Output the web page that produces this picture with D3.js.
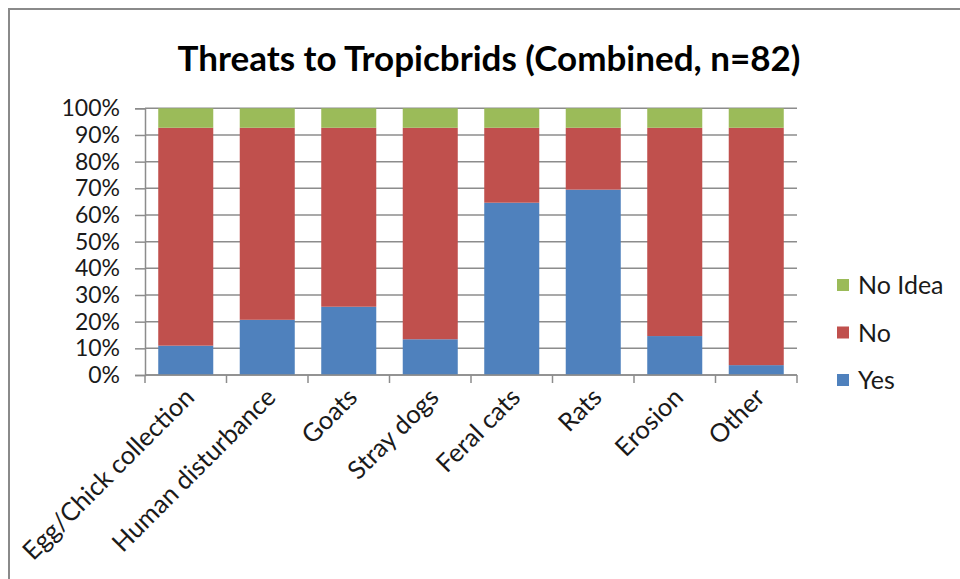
<!DOCTYPE html>
<html>
<head>
<meta charset="utf-8">
<script src="https://cdn.jsdelivr.net/npm/d3@7"></script>
<style>
  html, body { margin: 0; padding: 0; background: #fff; }
  svg { display: block; }
</style>
</head>
<body>
<svg id="chart" width="960" height="579"></svg>
<script>
// Survey responses, percent of respondents (n = 82)
const categories = ["Egg/Chick collection", "Human disturbance", "Goats", "Stray dogs", "Feral cats", "Rats", "Erosion", "Other"];
const yesValues = [11.0, 20.7, 25.6, 13.4, 64.6, 69.5, 14.6, 3.7];
const noIdeaValues = [7.3, 7.3, 7.3, 7.3, 7.3, 7.3, 7.3, 7.3];
const noValues = yesValues.map((y, i) => +(100 - y - noIdeaValues[i]).toFixed(1));
const seriesNames = ["Yes", "No", "No Idea"];
const seriesColors = ["#4F81BD", "#C0504D", "#9BBB59"];
const yTickValues = [0, 10, 20, 30, 40, 50, 60, 70, 80, 90, 100];

const rows = categories.map((c, i) => ({ cat: c, "Yes": yesValues[i], "No": noValues[i], "No Idea": noIdeaValues[i] }));

const svg = d3.select("#chart");
const fontFamily = "Lato, 'Open Sans', sans-serif";
const gridColor = "#8c8c8c";

// outer chart frame
svg.append("rect")
  .attr("x", 9).attr("y", 9)
  .attr("width", 1000).attr("height", 1000)
  .attr("fill", "none")
  .attr("stroke", "#8a8a8a")
  .attr("stroke-width", 2);

const plot = { left: 145, right: 797, top: 108.3, bottom: 375 };

const x = d3.scaleBand()
  .domain(categories)
  .range([plot.left, plot.right])
  .paddingInner(0.325)
  .paddingOuter(0.1625);

const y = d3.scaleLinear().domain([0, 100]).range([plot.bottom, plot.top]);

// horizontal gridlines
svg.append("g")
  .selectAll("line")
  .data(yTickValues)
  .join("line")
  .attr("x1", plot.left).attr("x2", plot.right)
  .attr("y1", d => y(d)).attr("y2", d => y(d))
  .attr("stroke", gridColor)
  .attr("stroke-width", 1.5);

// stacked bars
const stack = d3.stack().keys(seriesNames);
const stacked = stack(rows);
const color = d3.scaleOrdinal().domain(seriesNames).range(seriesColors);

svg.append("g")
  .selectAll("g")
  .data(stacked)
  .join("g")
  .attr("fill", d => color(d.key))
  .selectAll("rect")
  .data(d => d)
  .join("rect")
  .attr("x", d => x(d.data.cat))
  .attr("width", x.bandwidth())
  .attr("y", d => y(d[1]))
  .attr("height", d => y(d[0]) - y(d[1]));

// y axis
const yAxis = d3.axisLeft(y)
  .tickValues(yTickValues)
  .tickFormat(d => d + "%")
  .tickSize(10)
  .tickPadding(15);

const gy = svg.append("g")
  .attr("transform", `translate(${plot.left},0)`)
  .call(yAxis);
gy.select(".domain").attr("stroke", gridColor).attr("stroke-width", 1.5);
gy.selectAll(".tick line").attr("stroke", gridColor).attr("stroke-width", 1.5);
gy.selectAll(".tick text")
  .attr("font-family", fontFamily)
  .attr("font-size", 23)
  .attr("fill", "#1a1a1a");

// x axis: baseline with tick marks at the category boundaries
const boundaries = categories.map(c => x(c) - x.step() * x.paddingInner() / 2 ).concat([plot.right]);
boundaries[0] = plot.left;
const gx = svg.append("g");
gx.append("line")
  .attr("x1", plot.left).attr("x2", plot.right)
  .attr("y1", plot.bottom).attr("y2", plot.bottom)
  .attr("stroke", gridColor).attr("stroke-width", 1.5);
gx.selectAll("line.tick")
  .data(boundaries)
  .join("line")
  .attr("class", "tick")
  .attr("x1", d => d).attr("x2", d => d)
  .attr("y1", plot.bottom).attr("y2", plot.bottom + 8)
  .attr("stroke", gridColor).attr("stroke-width", 1.5);

gx.selectAll("text")
  .data(categories)
  .join("text")
  .attr("transform", d => `translate(${x(d) + x.bandwidth() / 2 + 10},${plot.bottom + 24}) rotate(-45)`)
  .attr("text-anchor", "end")
  .attr("font-family", fontFamily)
  .attr("font-size", 25.5)
  .attr("fill", "#1a1a1a")
  .text(d => d);

// title
svg.append("text")
  .attr("x", 489)
  .attr("y", 71)
  .attr("text-anchor", "middle")
  .attr("font-family", fontFamily)
  .attr("font-weight", "bold")
  .attr("font-size", 35)
  .attr("fill", "#000")
  .text("Threats to Tropicbrids (Combined, n=82)");

// legend (top entry is the top of the stack)
const legendItems = seriesNames.slice().reverse();
const legend = svg.append("g");
legend.selectAll("g")
  .data(legendItems)
  .join("g")
  .attr("transform", (d, i) => `translate(837,${285 + i * 47.5})`)
  .each(function (d) {
    const g = d3.select(this);
    g.append("rect")
      .attr("x", 0).attr("y", -6)
      .attr("width", 12).attr("height", 12)
      .attr("fill", color(d));
    g.append("text")
      .attr("x", 21).attr("y", 0)
      .attr("dy", "0.36em")
      .attr("font-family", fontFamily)
      .attr("font-size", 25)
      .attr("fill", "#1a1a1a")
      .text(d);
  });
</script>
</body>
</html>
